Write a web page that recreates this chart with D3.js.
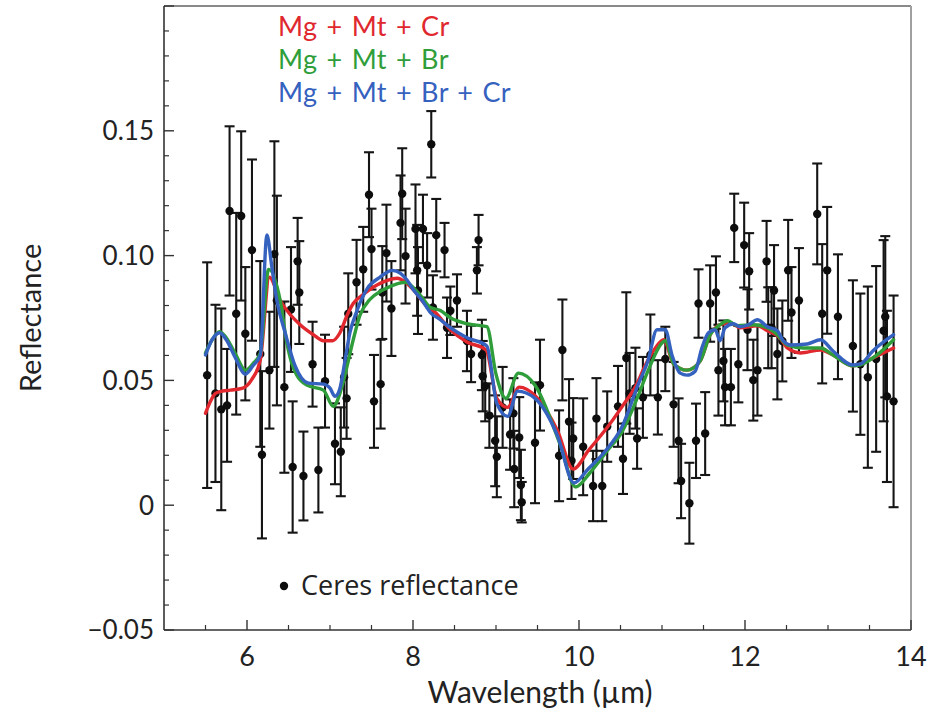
<!DOCTYPE html>
<html>
<head>
<meta charset="utf-8">
<script src="https://cdn.jsdelivr.net/npm/d3@7"></script>
<style>
  html, body { margin: 0; padding: 0; background: #fff; }
  svg { display: block; }
</style>
</head>
<body>
<svg id="chart" width="928" height="719"></svg>
<script>
// Ceres mid-infrared reflectance with three mineral-mixture model fits

// Observed spectrum: wavelength (µm), reflectance and 1-sigma uncertainty
const wavelength = [
  5.52, 5.62, 5.69, 5.76, 5.79, 5.87, 5.93, 5.98, 6.06, 6.16, 6.18, 6.27, 6.33, 6.36, 6.45, 6.53, 6.55, 6.61, 6.63, 6.68,
  6.79, 6.86, 6.94, 7.06, 7.13, 7.17, 7.20, 7.22, 7.32, 7.40, 7.47, 7.50, 7.53, 7.61, 7.63, 7.68, 7.74, 7.85, 7.87, 7.91,
  8.03, 8.05, 8.06, 8.12, 8.17, 8.22, 8.24, 8.28, 8.38, 8.41, 8.45, 8.53, 8.65, 8.70, 8.77, 8.79, 8.83, 8.84, 8.87, 8.92,
  8.99, 9.01, 9.08, 9.17, 9.21, 9.22, 9.28, 9.30, 9.31, 9.47, 9.53, 9.76, 9.80, 9.88, 9.91, 9.93, 10.05, 10.17, 10.21, 10.28,
  10.34, 10.47, 10.53, 10.57, 10.61, 10.68, 10.70, 10.77, 10.86, 10.95, 11.04, 11.14, 11.20, 11.23, 11.33, 11.41, 11.44, 11.52, 11.58, 11.65,
  11.68, 11.74, 11.76, 11.83, 11.87, 11.92, 11.99, 12.03, 12.05, 12.10, 12.15, 12.26, 12.28, 12.32, 12.35, 12.39, 12.45, 12.52, 12.56, 12.65,
  12.87, 12.93, 12.99, 13.12, 13.30, 13.39, 13.48, 13.58, 13.67, 13.69, 13.71, 13.79
];
const reflectance = [
  0.0521, 0.0448, 0.0384, 0.0400, 0.1179, 0.0767, 0.1159, 0.0687, 0.1022, 0.0606, 0.0202, 0.0541, 0.1006, 0.0820, 0.0473, 0.0784, 0.0153, 0.0977, 0.0852, 0.0117,
  0.0565, 0.0141, 0.0497, 0.0246, 0.0214, 0.0513, 0.0428, 0.0767, 0.0893, 0.0945, 0.1244, 0.1026, 0.0416, 0.0485, 0.0852, 0.1010, 0.0788, 0.1131, 0.1248, 0.0998,
  0.1107, 0.0941, 0.0860, 0.1107, 0.0961, 0.1446, 0.0792, 0.1082, 0.1022, 0.0711, 0.0779, 0.0820, 0.0658, 0.0606, 0.0941, 0.1062, 0.0602, 0.0517, 0.0477, 0.0359,
  0.0258, 0.0194, 0.0392, 0.0283, 0.0368, 0.0145, 0.0271, 0.0081, 0.0012, 0.0250, 0.0481, 0.0198, 0.0622, 0.0335, 0.0178, 0.0267, 0.0234, 0.0077, 0.0347, 0.0077,
  0.0315, 0.0396, 0.0186, 0.0590, 0.0448, 0.0469, 0.0267, 0.0432, 0.0602, 0.0432, 0.0586, 0.0404, 0.0258, 0.0097, 0.0008, 0.0258, 0.0808, 0.0287, 0.0808, 0.0852,
  0.0541, 0.0578, 0.0473, 0.0473, 0.1111, 0.0565, 0.1042, 0.0703, 0.0937, 0.0501, 0.0541, 0.0977, 0.0711, 0.0711, 0.0860, 0.0606, 0.0658, 0.0941, 0.0772, 0.0820,
  0.1167, 0.0767, 0.0941, 0.0755, 0.0638, 0.0565, 0.0513, 0.0586, 0.0699, 0.0755, 0.0436, 0.0416
];
const reflectanceError = [
  0.0452, 0.0355, 0.0404, 0.0226, 0.0339, 0.0404, 0.0339, 0.0267, 0.0363, 0.0372, 0.0335, 0.0234, 0.0452, 0.0420, 0.0343, 0.0250, 0.0263, 0.0174, 0.0206, 0.0178,
  0.0170, 0.0170, 0.0186, 0.0162, 0.0178, 0.0202, 0.0162, 0.0162, 0.0170, 0.0170, 0.0170, 0.0162, 0.0186, 0.0178, 0.0186, 0.0194, 0.0190, 0.0190, 0.0182, 0.0190,
  0.0178, 0.0182, 0.0174, 0.0137, 0.0129, 0.0133, 0.0129, 0.0145, 0.0109, 0.0121, 0.0097, 0.0105, 0.0121, 0.0113, 0.0093, 0.0101, 0.0141, 0.0141, 0.0141, 0.0129,
  0.0182, 0.0162, 0.0162, 0.0141, 0.0141, 0.0153, 0.0162, 0.0141, 0.0081, 0.0242, 0.0182, 0.0182, 0.0202, 0.0170, 0.0153, 0.0162, 0.0194, 0.0141, 0.0162, 0.0141,
  0.0141, 0.0162, 0.0141, 0.0263, 0.0162, 0.0162, 0.0121, 0.0162, 0.0162, 0.0149, 0.0129, 0.0170, 0.0170, 0.0149, 0.0162, 0.0149, 0.0137, 0.0166, 0.0153, 0.0145,
  0.0182, 0.0162, 0.0153, 0.0153, 0.0137, 0.0153, 0.0170, 0.0162, 0.0153, 0.0162, 0.0182, 0.0162, 0.0162, 0.0162, 0.0182, 0.0182, 0.0162, 0.0202, 0.0182, 0.0210,
  0.0202, 0.0279, 0.0254, 0.0250, 0.0263, 0.0283, 0.0363, 0.0372, 0.0363, 0.0323, 0.0343, 0.0424
];

// Model: Mg + Mt + Cr
const crWave = [
  5.50, 5.56, 5.62, 5.70, 5.80, 5.95, 6.06, 6.16, 6.27, 6.40, 6.52, 6.64, 6.80, 6.92, 7.03, 7.12, 7.21, 7.28, 7.40, 7.52,
  7.69, 7.81, 7.91, 8.00, 8.15, 8.27, 8.45, 8.65, 8.88, 9.01, 9.14, 9.28, 9.48, 9.74, 9.93, 10.12, 10.33, 10.53, 10.69, 10.80,
  10.92, 11.02, 11.14, 11.30, 11.46, 11.58, 11.70, 11.82, 11.94, 12.15, 12.27, 12.42, 12.51, 12.67, 12.91, 13.06, 13.30, 13.39, 13.59, 13.79
];
const crRefl = [
  0.0368, 0.0416, 0.0448, 0.0457, 0.0461, 0.0469, 0.0505, 0.0582, 0.0913, 0.0820, 0.0764, 0.0723, 0.0683, 0.0659, 0.0659, 0.0691, 0.0764, 0.0808, 0.0844, 0.0873,
  0.0901, 0.0909, 0.0893, 0.0865, 0.0804, 0.0772, 0.0703, 0.0654, 0.0622, 0.0428, 0.0392, 0.0473, 0.0436, 0.0299, 0.0145, 0.0222, 0.0307, 0.0400, 0.0481, 0.0562,
  0.0630, 0.0663, 0.0566, 0.0541, 0.0578, 0.0683, 0.0723, 0.0731, 0.0711, 0.0719, 0.0699, 0.0671, 0.0630, 0.0610, 0.0622, 0.0602, 0.0558, 0.0566, 0.0598, 0.0630
];

// Model: Mg + Mt + Br
const brWave = [
  5.50, 5.58, 5.67, 5.75, 5.86, 5.98, 6.07, 6.16, 6.26, 6.40, 6.48, 6.56, 6.72, 6.92, 7.04, 7.12, 7.18, 7.28, 7.36, 7.48,
  7.63, 7.79, 7.91, 8.00, 8.11, 8.21, 8.33, 8.45, 8.65, 8.89, 9.00, 9.12, 9.27, 9.47, 9.77, 9.96, 10.13, 10.34, 10.52, 10.71,
  10.83, 11.00, 11.04, 11.14, 11.30, 11.46, 11.58, 11.70, 11.79, 11.91, 12.10, 12.27, 12.39, 12.51, 12.70, 12.91, 13.06, 13.30, 13.39, 13.59, 13.79
];
const brRefl = [
  0.0610, 0.0663, 0.0695, 0.0671, 0.0606, 0.0541, 0.0566, 0.0610, 0.0945, 0.0820, 0.0650, 0.0549, 0.0481, 0.0461, 0.0396, 0.0448, 0.0521, 0.0663, 0.0760, 0.0824,
  0.0861, 0.0885, 0.0893, 0.0873, 0.0832, 0.0792, 0.0780, 0.0751, 0.0727, 0.0715, 0.0525, 0.0428, 0.0529, 0.0481, 0.0246, 0.0073, 0.0129, 0.0218, 0.0295, 0.0436,
  0.0537, 0.0650, 0.0659, 0.0566, 0.0541, 0.0578, 0.0683, 0.0723, 0.0739, 0.0719, 0.0723, 0.0711, 0.0683, 0.0642, 0.0630, 0.0630, 0.0602, 0.0558, 0.0562, 0.0602, 0.0663
];

// Model: Mg + Mt + Br + Cr
const brCrWave = [
  5.50, 5.58, 5.67, 5.75, 5.86, 5.98, 6.07, 6.16, 6.24, 6.30, 6.36, 6.46, 6.58, 6.74, 6.92, 7.00, 7.06, 7.12, 7.18, 7.24,
  7.33, 7.45, 7.60, 7.75, 7.85, 7.93, 8.00, 8.11, 8.21, 8.33, 8.45, 8.65, 8.89, 9.01, 9.14, 9.26, 9.47, 9.74, 9.94, 10.11,
  10.32, 10.52, 10.71, 10.83, 10.94, 11.04, 11.12, 11.22, 11.30, 11.40, 11.48, 11.56, 11.64, 11.70, 11.76, 11.86, 11.94, 12.04, 12.15, 12.27,
  12.39, 12.46, 12.55, 12.75, 12.91, 13.06, 13.30, 13.39, 13.54, 13.79
];
const brCrRefl = [
  0.0602, 0.0663, 0.0691, 0.0663, 0.0590, 0.0525, 0.0558, 0.0602, 0.1083, 0.0953, 0.0820, 0.0691, 0.0558, 0.0489, 0.0485, 0.0469, 0.0436, 0.0469, 0.0578, 0.0691,
  0.0784, 0.0869, 0.0913, 0.0941, 0.0929, 0.0901, 0.0865, 0.0820, 0.0772, 0.0743, 0.0711, 0.0671, 0.0638, 0.0408, 0.0356, 0.0457, 0.0428, 0.0279, 0.0089, 0.0145,
  0.0218, 0.0315, 0.0481, 0.0578, 0.0703, 0.0703, 0.0602, 0.0529, 0.0521, 0.0537, 0.0630, 0.0691, 0.0703, 0.0659, 0.0711, 0.0727, 0.0715, 0.0723, 0.0743, 0.0715,
  0.0699, 0.0659, 0.0642, 0.0646, 0.0663, 0.0618, 0.0562, 0.0566, 0.0618, 0.0683
];

const modelNames = ["Mg + Mt + Cr", "Mg + Mt + Br", "Mg + Mt + Br + Cr"];
const modelColors = ["#e0282e", "#2f9e3a", "#3561bf"];

// Axis ticks
const xTicks = [6, 8, 10, 12, 14];
const xTickLabels = ["6", "8", "10", "12", "14"];
const yTicks = [-0.05, 0, 0.05, 0.10, 0.15];
const yTickLabels = ["\u22120.05", "0", "0.05", "0.10", "0.15"];

const svg = d3.select("#chart");
const margin = { left: 164, right: 17, top: 6, bottom: 89 };
const W = 928, H = 719;

const x = d3.scaleLinear().domain([5, 14]).range([margin.left, W - margin.right]);
const y = d3.scaleLinear().domain([-0.05, 0.20]).range([H - margin.bottom, margin.top]);

const fontTick = "'Lato', 'Open Sans', sans-serif";
const fontText = "'Open Sans', 'Lato', sans-serif";

// Frame: top and right in light grey
svg.append("line").attr("x1", x(5)).attr("x2", x(14)).attr("y1", y(0.2)).attr("y2", y(0.2))
  .attr("stroke", "#8a8a8a").attr("stroke-width", 2);
svg.append("line").attr("x1", x(14)).attr("x2", x(14)).attr("y1", y(0.2)).attr("y2", y(-0.05))
  .attr("stroke", "#a0a0a0").attr("stroke-width", 2);

// Bottom axis with inward ticks
const xMinor = d3.range(5.5, 14, 0.5).filter(v => Math.abs(v - Math.round(v / 2) * 2) > 1e-6);
const gx = svg.append("g").attr("transform", `translate(0,${y(-0.05)})`);
gx.append("line").attr("x1", x(5)).attr("x2", x(14)).attr("stroke", "#333").attr("stroke-width", 1.6);
gx.selectAll("line.major").data(xTicks).join("line").attr("class", "major")
  .attr("x1", d => x(d)).attr("x2", d => x(d)).attr("y1", 0).attr("y2", -10)
  .attr("stroke", "#333").attr("stroke-width", 1.4);
gx.selectAll("line.minor").data(xMinor).join("line").attr("class", "minor")
  .attr("x1", d => x(d)).attr("x2", d => x(d)).attr("y1", 0).attr("y2", -5)
  .attr("stroke", "#333").attr("stroke-width", 1.2);
gx.selectAll("text").data(xTicks).join("text")
  .attr("x", d => x(d)).attr("y", 36)
  .attr("text-anchor", "middle")
  .attr("font-family", fontTick).attr("font-size", 27).attr("fill", "#222")
  .text((d, i) => xTickLabels[i]);

// Left axis with inward ticks
const yMinor = d3.range(-0.04, 0.2, 0.01).filter(v => Math.abs(v * 20 - Math.round(v * 20)) > 1e-6);
const gy = svg.append("g").attr("transform", `translate(${x(5)},0)`);
gy.append("line").attr("y1", y(-0.05)).attr("y2", y(0.2)).attr("stroke", "#333").attr("stroke-width", 1.6);
gy.selectAll("line.major").data(yTicks.concat([0.2])).join("line").attr("class", "major")
  .attr("y1", d => y(d)).attr("y2", d => y(d)).attr("x1", 0).attr("x2", 10)
  .attr("stroke", "#333").attr("stroke-width", 1.4);
gy.selectAll("line.minor").data(yMinor).join("line").attr("class", "minor")
  .attr("y1", d => y(d)).attr("y2", d => y(d)).attr("x1", 0).attr("x2", 5)
  .attr("stroke", "#333").attr("stroke-width", 1.2);
gy.selectAll("text").data(yTicks).join("text")
  .attr("x", -10).attr("y", d => y(d)).attr("dy", "0.36em")
  .attr("text-anchor", "end")
  .attr("font-family", fontTick).attr("font-size", 26).attr("fill", "#222")
  .text((d, i) => yTickLabels[i]);

// Axis titles
svg.append("text")
  .attr("x", 540).attr("y", 703).attr("text-anchor", "middle")
  .attr("font-family", fontTick).attr("font-size", 30).attr("fill", "#222")
  .text("Wavelength (\u00b5m)");
svg.append("text")
  .attr("transform", "translate(41,318) rotate(-90)").attr("text-anchor", "middle")
  .attr("font-family", fontTick).attr("font-size", 29).attr("fill", "#222")
  .text("Reflectance");

// Error bars and data points
const obs = wavelength.map((w, i) => ({ w, r: reflectance[i], e: reflectanceError[i] }));
const gObs = svg.append("g");
const capHalf = 5;
const barColor = "#151515";
gObs.selectAll("line.stem").data(obs).join("line").attr("class", "stem")
  .attr("x1", d => x(d.w)).attr("x2", d => x(d.w))
  .attr("y1", d => y(d.r - d.e)).attr("y2", d => y(d.r + d.e))
  .attr("stroke", barColor).attr("stroke-width", 2.1);
gObs.selectAll("line.capTop").data(obs).join("line").attr("class", "capTop")
  .attr("x1", d => x(d.w) - capHalf).attr("x2", d => x(d.w) + capHalf)
  .attr("y1", d => y(d.r + d.e)).attr("y2", d => y(d.r + d.e))
  .attr("stroke", barColor).attr("stroke-width", 2.1);
gObs.selectAll("line.capBot").data(obs).join("line").attr("class", "capBot")
  .attr("x1", d => x(d.w) - capHalf).attr("x2", d => x(d.w) + capHalf)
  .attr("y1", d => y(d.r - d.e)).attr("y2", d => y(d.r - d.e))
  .attr("stroke", barColor).attr("stroke-width", 2.1);
gObs.selectAll("circle").data(obs).join("circle")
  .attr("cx", d => x(d.w)).attr("cy", d => y(d.r)).attr("r", 4.2)
  .attr("fill", "#0d0d0d");

// Model curves
const models = [
  { wave: crWave, refl: crRefl },
  { wave: brWave, refl: brRefl },
  { wave: brCrWave, refl: brCrRefl }
];
const line = d3.line().x(d => x(d[0])).y(d => y(d[1])).curve(d3.curveMonotoneX);
models.forEach((m, i) => {
  svg.append("path")
    .datum(m.wave.map((w, j) => [w, m.refl[j]]))
    .attr("d", line)
    .attr("fill", "none")
    .attr("stroke", modelColors[i])
    .attr("stroke-width", 3.4)
    .attr("stroke-linejoin", "round")
    .attr("stroke-linecap", "round");
});

// Legend for models, tightly stacked lines
const legendBaselines = [36, 69, 102];
modelNames.forEach((name, i) => {
  svg.append("text")
    .attr("x", 278).attr("y", legendBaselines[i])
    .attr("font-family", fontTick).attr("font-size", 27)
    .attr("letter-spacing", 0.5).attr("word-spacing", 1.5)
    .attr("fill", modelColors[i])
    .text(name);
});

// Legend for observations
svg.append("circle").attr("cx", 284).attr("cy", 586).attr("r", 4.2).attr("fill", "#0d0d0d");
svg.append("text")
  .attr("x", 301).attr("y", 595)
  .attr("font-family", fontText).attr("font-size", 27).attr("fill", "#222")
  .text("Ceres reflectance");
</script>
</body>
</html>
